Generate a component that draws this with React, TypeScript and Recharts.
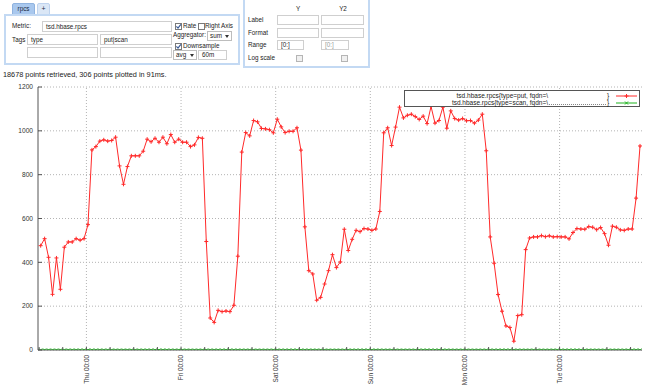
import React from "react";
import { LineChart, Line, XAxis, YAxis, CartesianGrid, ReferenceLine, Legend } from "recharts";

// hourly downsampled (avg, 60m) values, starting Wed 12:00
const putValues = [
  476, 508, 423, 254, 420, 277, 469, 493, 493, 508, 501, 508,
  572, 913, 928, 953, 959, 953, 956, 971, 840, 756, 837, 886,
  886, 886, 907, 962, 950, 966, 948, 971, 941, 983, 948, 962,
  948, 948, 928, 936, 970, 966, 495, 146, 126, 181, 175, 178,
  175, 204, 428, 903, 992, 977, 1047, 1041, 1011, 1009, 1005, 991,
  1053, 1018, 992, 998, 998, 1014, 912, 562, 362, 347, 227, 240,
  301, 362, 435, 376, 402, 551, 454, 505, 546, 540, 554, 552,
  546, 552, 632, 991, 1014, 933, 1017, 1108, 1059, 1071, 1076, 1065,
  1052, 1067, 1033, 1111, 1035, 1047, 1108, 1012, 1091, 1056, 1049, 1056,
  1046, 1047, 1035, 1049, 1076, 909, 516, 396, 253, 177, 110, 103,
  40, 157, 161, 458, 511, 516, 516, 522, 517, 521, 516, 517,
  516, 516, 507, 536, 554, 552, 551, 563, 560, 549, 559, 531,
  478, 565, 560, 548, 546, 552, 552, 693, 931,
];

const scanValues = [
  0, 0, 0, 0, 0, 0, 0, 0, 0, 0, 0, 0,
  0, 0, 0, 0, 0, 0, 0, 0, 0, 0, 0, 0,
  0, 0, 0, 0, 0, 0, 0, 0, 0, 0, 0, 0,
  0, 0, 0, 0, 0, 0, 0, 0, 0, 0, 0, 0,
  0, 0, 0, 0, 0, 0, 0, 0, 0, 0, 0, 0,
  0, 0, 0, 0, 0, 0, 0, 0, 0, 0, 0, 0,
  0, 0, 0, 0, 0, 0, 0, 0, 0, 0, 0, 0,
  0, 0, 0, 0, 0, 0, 0, 0, 0, 0, 0, 0,
  0, 0, 0, 0, 0, 0, 0, 0, 0, 0, 0, 0,
  0, 0, 0, 0, 0, 0, 0, 0, 0, 0, 0, 0,
  0, 0, 0, 0, 0, 0, 0, 0, 0, 0, 0, 0,
  0, 0, 0, 0, 0, 0, 0, 0, 0, 0, 0, 0,
  0, 0, 0, 0, 0, 0, 0, 0, 0,
];

const yTicks = [0, 200, 400, 600, 800, 1000, 1200];
const sixHourTicks = [
  0, 6, 12, 18, 24, 30, 36, 42, 48, 54, 60, 66, 72, 78, 84, 90, 96, 102,
  108, 114, 120, 126, 132, 138, 144, 150,
];
const dayTicks = [12, 36, 60, 84, 108, 132];
const dayLabels = ["Thu 00:00", "Fri 00:00", "Sat 00:00", "Sun 00:00", "Mon 00:00", "Tue 00:00"];
const seriesNames = ["tsd.hbase.rpcs{type=put, fqdn=\\", "tsd.hbase.rpcs{type=scan, fqdn=\\"];

const data = putValues.map((v, i) => ({ t: i + 0.4, put: v, scan: scanValues[i] }));

const RED = "#ff2a2a";
const GREEN = "#1fb31f";
const AXIS = "#555";
const GRID = "#b4b4b4";
const FONT = '"Liberation Sans", Arial, Helvetica, sans-serif';
const X_DOMAIN: [number, number] = [-0.28, 152.9];

const PlusDot = (p: any) => {
  const { cx, cy, index } = p;
  if (cx == null || cy == null) return <g key={`p${index}`} />;
  return (
    <g key={`p${index}`}>
      <line x1={cx - 2} y1={cy} x2={cx + 2} y2={cy} stroke={RED} strokeWidth={1} />
      <line x1={cx} y1={cy - 2} x2={cx} y2={cy + 2} stroke={RED} strokeWidth={1} />
    </g>
  );
};

const CrossDot = (p: any) => {
  const { cx, cy, index } = p;
  if (cx == null || cy == null) return <g key={`s${index}`} />;
  return (
    <g key={`s${index}`}>
      <line x1={cx - 1.5} y1={cy - 1.5} x2={cx + 1.5} y2={cy + 1.5} stroke={GREEN} strokeWidth={0.9} />
      <line x1={cx - 1.5} y1={cy + 1.5} x2={cx + 1.5} y2={cy - 1.5} stroke={GREEN} strokeWidth={0.9} />
    </g>
  );
};

const BottomTick = (props: any) => {
  const { x, y, payload } = props;
  const idx = dayTicks.indexOf(payload.value);
  return (
    <g>
      <line x1={x} y1={y} x2={x} y2={y - 3} stroke={AXIS} strokeWidth={1} />
      {idx >= 0 && (
        <text
          transform={`translate(${x + 2.2},${y + 5}) rotate(-90)`}
          textAnchor="end"
          fontSize={6.4}
          fontFamily={FONT}
          fill="#333"
        >
          {dayLabels[idx]}
        </text>
      )}
    </g>
  );
};

const TopTick = (props: any) => {
  const { x, y } = props;
  return <line x1={x} y1={y} x2={x} y2={y + 3} stroke={AXIS} strokeWidth={1} />;
};

const LeftTick = (props: any) => {
  const { x, y, payload } = props;
  return (
    <g>
      <line x1={x} y1={y} x2={x + 4} y2={y} stroke={AXIS} strokeWidth={1} />
      <text x={x - 5} y={y} dy="0.35em" textAnchor="end" fontSize={6.6} fontFamily={FONT} fill="#333">
        {payload.value}
      </text>
    </g>
  );
};

const RightTick = (props: any) => {
  const { x, y } = props;
  return <line x1={x - 4} y1={y} x2={x} y2={y} stroke={AXIS} strokeWidth={1} />;
};

const LegendBox = () => {
  const row = (top: number, name: string, color: string, dotted: boolean, marker: "plus" | "cross") => (
    <div style={{ position: "absolute", left: 0, top, width: 236, height: 8 }}>
      <div
        style={{
          position: "absolute",
          right: 236 - 143,
          top: 0,
          lineHeight: "8px",
          fontSize: 6.5,
          whiteSpace: "nowrap",
          color: "#222",
        }}
      >
        {name}
      </div>
      {dotted && (
        <div
          style={{
            position: "absolute",
            left: 144,
            top: 5,
            width: 57,
            height: 0,
            borderBottom: "1px dotted #888",
          }}
        />
      )}
      <div style={{ position: "absolute", left: 202, top: 0, lineHeight: "8px", fontSize: 6.5, color: "#222" }}>{"}"}</div>
      <svg style={{ position: "absolute", left: 211, top: 0 }} width={22} height={8}>
        <line x1={0} y1={4} x2={21} y2={4} stroke={color} strokeWidth={1} />
        {marker === "plus" ? (
          <g>
            <line x1={8.5} y1={4} x2={12.5} y2={4} stroke={color} />
            <line x1={10.5} y1={2} x2={10.5} y2={6} stroke={color} />
          </g>
        ) : (
          <g>
            <line x1={9} y1={2.5} x2={12} y2={5.5} stroke={color} />
            <line x1={9} y1={5.5} x2={12} y2={2.5} stroke={color} />
          </g>
        )}
      </svg>
    </div>
  );
  return (
    <div
      style={{
        position: "relative",
        width: 236,
        height: 17,
        boxSizing: "border-box",
        border: "1px solid #555",
        background: "#fff",
        fontFamily: FONT,
      }}
    >
      {row(0.5, seriesNames[0], RED, false, "plus")}
      {row(7.5, seriesNames[1], GREEN, true, "cross")}
    </div>
  );
};

// ---------- form (non-chart UI) ----------
const Txt = ({ x, cy, children, size = 6.3, color = "#222", w, center }: any) => (
  <div
    style={{
      position: "absolute",
      left: x,
      top: cy - 5,
      height: 10,
      width: w,
      lineHeight: "10px",
      fontSize: size,
      color,
      whiteSpace: "nowrap",
      textAlign: center ? "center" : "left",
    }}
  >
    {children}
  </div>
);

const Field = ({ x, y, w, h, text, color }: any) => (
  <div
    style={{
      position: "absolute",
      left: x,
      top: y,
      width: w,
      height: h,
      boxSizing: "border-box",
      border: "1px solid #cfcfcf",
      background: "#fff",
      fontSize: 6.3,
      lineHeight: `${h - 2}px`,
      paddingLeft: 3,
      color: color || "#222",
      whiteSpace: "nowrap",
      overflow: "hidden",
    }}
  >
    {text}
  </div>
);

const Check = ({ x, y, checked, disabled }: any) => (
  <svg style={{ position: "absolute", left: x, top: y }} width={7} height={7}>
    <rect x={0.5} y={0.5} width={6} height={6} fill={disabled ? "#f0f0f0" : "#fff"} stroke={disabled ? "#b5b5b5" : "#7a7a7a"} />
    {checked && <path d="M1.4 3.4 L3 5.1 L5.9 1.4" stroke="#3b5b96" fill="none" strokeWidth={1.2} />}
  </svg>
);

const Select = ({ x, y, w, h, text }: any) => (
  <div
    style={{
      position: "absolute",
      left: x,
      top: y,
      width: w,
      height: h,
      boxSizing: "border-box",
      border: "1px solid #bdbdbd",
      background: "#fff",
      fontSize: 6.3,
      lineHeight: `${h - 2}px`,
      paddingLeft: 2,
      color: "#222",
    }}
  >
    {text}
    <svg style={{ position: "absolute", right: 2, top: (h - 2) / 2 - 1.5 }} width={4} height={3}>
      <path d="M0 0 L4 0 L2 3 Z" fill="#333" />
    </svg>
  </div>
);

const Form = () => (
  <div style={{ position: "absolute", left: 0, top: 0, width: 650, height: 80, fontFamily: FONT }}>
    {/* tabs */}
    <div
      style={{
        position: "absolute",
        left: 12,
        top: 3,
        width: 23,
        height: 12,
        boxSizing: "border-box",
        background: "#a9c8ee",
        border: "1px solid #90b3df",
        borderRadius: "2px 2px 0 0",
        fontSize: 6.3,
        lineHeight: "10px",
        textAlign: "center",
        color: "#1c2a44",
      }}
    >
      rpcs
    </div>
    <div
      style={{
        position: "absolute",
        left: 37,
        top: 3,
        width: 13,
        height: 12,
        boxSizing: "border-box",
        background: "#dbe7f6",
        border: "1px solid #bfd3ee",
        borderRadius: "2px 2px 0 0",
        fontSize: 7,
        lineHeight: "10px",
        textAlign: "center",
        color: "#1c2a44",
      }}
    >
      +
    </div>
    {/* panel 1 */}
    <div
      style={{
        position: "absolute",
        left: 4,
        top: 14,
        width: 236,
        height: 51,
        boxSizing: "border-box",
        border: "2px solid #c3d9f3",
        background: "#fff",
      }}
    />
    <Txt x={12} cy={26}>Metric:</Txt>
    <Field x={42} y={21} w={130} h={11} text="tsd.hbase.rpcs" />
    <Check x={175} y={23} checked />
    <Txt x={183} cy={26}>Rate</Txt>
    <Check x={198} y={23} />
    <Txt x={205} cy={26}>Right Axis</Txt>
    <Txt x={12} cy={40}>Tags</Txt>
    <Field x={27} y={34} w={71} h={11} text="type" />
    <Field x={100} y={34} w={72} h={11} text="put|scan" />
    <Field x={27} y={47} w={71} h={11} text="" />
    <Field x={100} y={47} w={72} h={11} text="" />
    <Txt x={173} cy={35}>Aggregator:</Txt>
    <Select x={207} y={31} w={25} h={10} text="sum" />
    <Check x={175} y={43} checked />
    <Txt x={183} cy={46}>Downsample</Txt>
    <Select x={173} y={50} w={24} h={10} text="avg" />
    <Field x={198} y={50} w={29} h={10} text="60m" />
    {/* panel 2 */}
    <div
      style={{
        position: "absolute",
        left: 243,
        top: -3,
        width: 127,
        height: 71,
        boxSizing: "border-box",
        border: "2px solid #c3d9f3",
        background: "#fff",
      }}
    />
    <Txt x={288} w={20} center cy={9}>Y</Txt>
    <Txt x={333} w={20} center cy={9}>Y2</Txt>
    <Txt x={248} cy={20}>Label</Txt>
    <Field x={277} y={15} w={42} h={10} text="" />
    <Field x={321} y={15} w={43} h={10} text="" />
    <Txt x={248} cy={33}>Format</Txt>
    <Field x={277} y={28} w={42} h={10} text="" />
    <Field x={321} y={28} w={43} h={10} text="" />
    <Txt x={248} cy={45}>Range</Txt>
    <Field x={277} y={40} w={27} h={10} text="[0:]" />
    <Field x={321} y={40} w={28} h={10} text="[0:]" color="#9a9a9a" />
    <Txt x={248} cy={58}>Log scale</Txt>
    <Check x={296} y={55} disabled />
    <Check x={341} y={55} disabled />
    {/* status line */}
    <Txt x={3} cy={75} size={7.3}>18678 points retrieved, 306 points plotted in 91ms.</Txt>
  </div>
);

export default function App() {
  return (
    <div
      style={{
        position: "absolute",
        left: 0,
        top: 0,
        width: 650,
        height: 392,
        background: "#fff",
        overflow: "hidden",
        fontFamily: FONT,
      }}
    >
      <Form />
      <div style={{ position: "absolute", left: 0, top: 0 }}>
        <LineChart width={650} height={392} data={data} margin={{ top: 87, right: 8, bottom: 0, left: 0 }}>
          <XAxis
            xAxisId="b"
            dataKey="t"
            type="number"
            domain={X_DOMAIN}
            allowDataOverflow
            ticks={sixHourTicks}
            interval={0}
            height={42}
            tickSize={0}
            tickMargin={0}
            tickLine={false}
            axisLine={{ stroke: AXIS }}
            tick={(p: any) => <BottomTick {...p} />}
          />
          <XAxis
            xAxisId="top"
            orientation="top"
            dataKey="t"
            type="number"
            domain={X_DOMAIN}
            allowDataOverflow
            ticks={sixHourTicks}
            interval={0}
            height={0}
            tickSize={0}
            tickMargin={0}
            tickLine={false}
            axisLine={{ stroke: AXIS }}
            tick={(p: any) => <TopTick {...p} />}
          />
          <YAxis
            yAxisId="l"
            type="number"
            domain={[0, 1200]}
            allowDataOverflow
            ticks={yTicks}
            interval={0}
            width={38}
            tickSize={0}
            tickMargin={0}
            tickLine={false}
            axisLine={{ stroke: AXIS }}
            tick={(p: any) => <LeftTick {...p} />}
          />
          <YAxis
            yAxisId="r"
            orientation="right"
            type="number"
            domain={[0, 1200]}
            allowDataOverflow
            ticks={yTicks}
            interval={0}
            width={0}
            tickSize={0}
            tickMargin={0}
            tickLine={false}
            axisLine={{ stroke: AXIS }}
            tick={(p: any) => <RightTick {...p} />}
          />
          <CartesianGrid xAxisId="b" yAxisId="l" vertical={false} stroke={GRID} strokeDasharray="1 2" />
          {dayTicks.map((d) => (
            <ReferenceLine key={d} xAxisId="b" yAxisId="l" x={d} stroke={GRID} strokeDasharray="1 2" />
          ))}
          <Legend
            layout="horizontal"
            verticalAlign="middle"
            align="center"
            wrapperStyle={{ left: 404, top: 90, width: 236, height: 17 }}
            content={() => <LegendBox />}
          />
          <Line
            xAxisId="b"
            yAxisId="l"
            type="linear"
            dataKey="scan"
            name={seriesNames[1]}
            stroke={GREEN}
            strokeWidth={1}
            dot={(p: any) => <CrossDot key={`s${p.index}`} {...p} />}
            activeDot={false}
            isAnimationActive={false}
          />
          <Line
            xAxisId="b"
            yAxisId="l"
            type="linear"
            dataKey="put"
            name={seriesNames[0]}
            stroke={RED}
            strokeWidth={1}
            dot={(p: any) => <PlusDot key={`p${p.index}`} {...p} />}
            activeDot={false}
            isAnimationActive={false}
          />
        </LineChart>
      </div>
    </div>
  );
}
